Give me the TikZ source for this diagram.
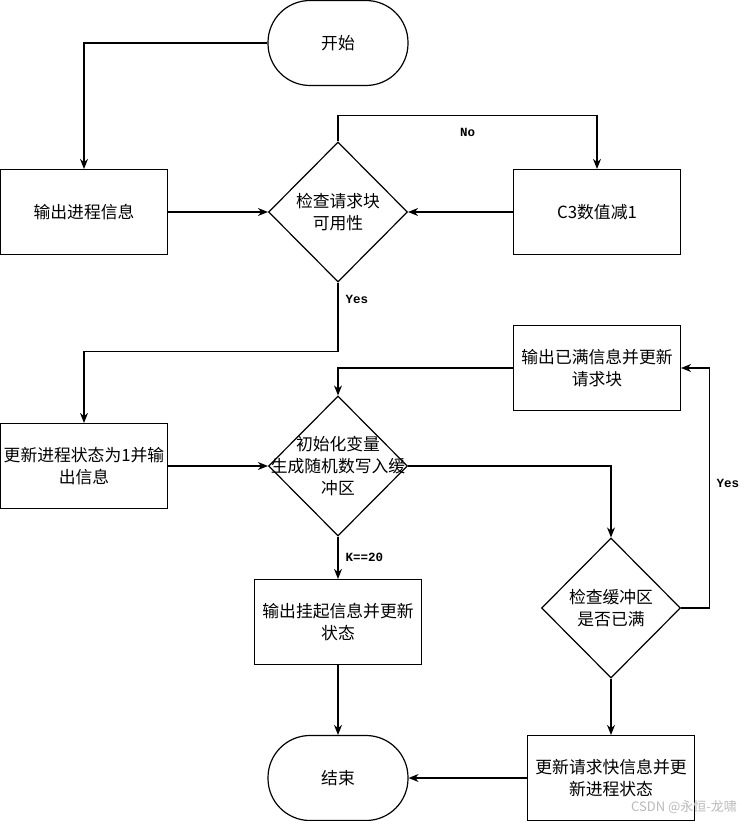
\documentclass[tikz,border=0pt]{standalone}
\usepackage{fontspec}
\newfontfamily\cjk{Noto Sans CJK SC}
\newfontfamily\labfont{Liberation Mono}
\usetikzlibrary{shapes.geometric,arrows.meta,positioning}

\begin{document}
\begin{tikzpicture}[x=1pt,y=-1pt,line width=1.2pt,
    every node/.style={font=\cjk\fontsize{16.8}{22}\selectfont},
    term/.style={draw,rounded corners=42pt,minimum width=140pt,minimum height=85pt},
    proc/.style={draw,minimum width=167pt,minimum height=85pt,align=center,inner sep=2pt},
    dec/.style={draw,diamond,minimum width=139pt,minimum height=140pt,inner sep=0pt},
    arr/.style={-{Stealth[length=10pt,width=8pt]}},
    lab/.style={font=\labfont\bfseries\fontsize{12.5}{14}\selectfont,inner sep=1pt}]
        \useasboundingbox (0,0) rectangle (750,821);
        % top row
        \node[term] (start) at (338,43) {开始};
        \node[proc] (outinfo) at (84,212) {输出进程信息};
        \node[dec,label={[align=center]center:{检查请求块\\可用性}}] (check) at (338,212) {};
        \node[proc] (dec1) at (597,212) {C3数值减1};
        % middle
        \node[proc] (setstate) at (84,466) {更新进程状态为1并输\\出信息};
        \node[dec,label={[align=center]center:{初始化变量\\生成随机数写入缓\\冲区}}] (init) at (338,466) {};
        \node[proc] (full) at (597,368) {输出已满信息并更新\\请求块};
        \node[proc] (hang) at (338,622) {输出挂起信息并更新\\状态};
        \node[dec,label={[align=center]center:{检查缓冲区\\是否已满}}] (isfull) at (611,608) {};
        % bottom
        \node[term] (stop) at (338,778) {结束};
        \node[proc] (update) at (611,778) {更新请求快信息并更\\新进程状态};
        \node[font=\cjk\fontsize{13}{15}\selectfont,text=gray!55] (mark) at (684,807) {CSDN @永恒-龙啸};

        \draw[arr] (start.west) -| (outinfo.north);
        \draw[arr] (outinfo) -- (check);
        \draw[arr] (dec1) -- (check);
        \draw[arr] (check.north) -- ++(0,-26) -| node[lab,pos=0.25,below=11pt] {No} (dec1.north);
        \draw[arr] (check.south) -- node[lab,pos=0.25,right=6pt] {Yes} ++(0,69) -| (setstate.north);
        \draw[arr] (setstate) -- (init);
        \draw[arr] (full.west) -| (init.north);
        \draw[arr] (init.south) -- node[lab,right=6pt] {K==20} (hang.north);
        \draw[arr] (init.east) -| (isfull.north);
        \draw[arr] (isfull.east) -- ++(28,0) |- node[lab,pos=0.26,right=6pt] {Yes} (full.east);
        \draw[arr] (isfull.south) -- (update.north);
        \draw[arr] (hang.south) -- (stop.north);
        \draw[arr] (update.west) -- (stop.east);
\end{tikzpicture}
\end{document}
